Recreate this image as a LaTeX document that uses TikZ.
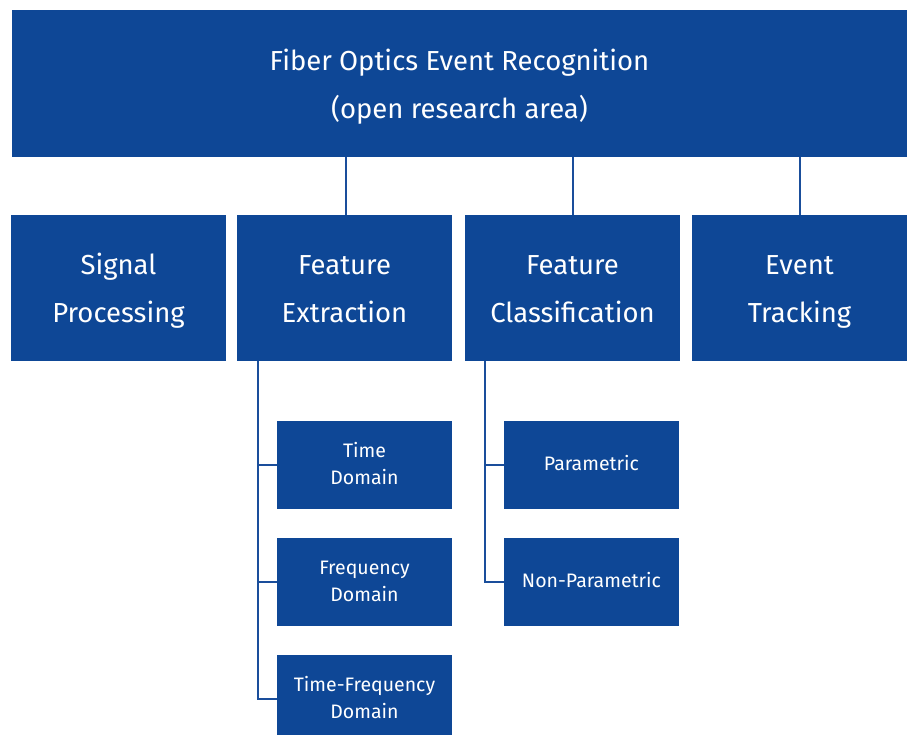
\documentclass[tikz,border=0pt]{standalone}
\usepackage{fontspec}
\setmainfont{Fira Sans}
\definecolor{boxblue}{HTML}{0E4796}
\definecolor{lineblue}{HTML}{1A4E9B}
\newcommand\lnstrut{\vphantom{Tg}}
\newcommand\bigtop{\rule{0pt}{1em}}
\newcommand\subtop{\rule{0pt}{0.8em}}
\begin{document}
\begin{tikzpicture}[x=1pt,y=-1pt,
  bigbox/.style={fill=boxblue,draw=none,text=white,align=center,inner sep=0pt,
    font=\fontsize{27.5}{48}\selectfont},
  subbox/.style={fill=boxblue,draw=none,text=white,align=center,inner sep=0pt,
    font=\fontsize{19.5}{27}\selectfont},
  conn/.style={draw=lineblue,line width=2pt}]
\useasboundingbox (0,0) rectangle (912,735);
% top
\node[bigbox,minimum width=895pt,minimum height=147pt] (top) at (459.5,83.5)
  {\bigtop Fiber Optics Event Recognition\\\lnstrut(open research area)};
% row
\node[bigbox,minimum width=215pt,minimum height=146pt] (sig) at (118.5,288) {\bigtop Signal\\\lnstrut Processing};
\node[bigbox,minimum width=215pt,minimum height=146pt] (fe) at (344.5,288) {\bigtop Feature\\\lnstrut Extraction};
\node[bigbox,minimum width=215pt,minimum height=146pt] (fc) at (572.5,288) {\bigtop Feature\\\lnstrut Classification};
\node[bigbox,minimum width=215pt,minimum height=146pt] (et) at (799.5,288) {\bigtop Event\\\lnstrut Tracking};
% sub boxes
\node[subbox,minimum width=175pt,minimum height=88pt] (td) at (364.5,465) {\subtop Time\\\lnstrut Domain};
\node[subbox,minimum width=175pt,minimum height=88pt] (fd) at (364.5,582) {\subtop Frequency\\\lnstrut Domain};
\node[subbox,minimum width=175pt,minimum height=88pt] (tfd) at (364.5,699) {\subtop Time-Frequency\\\lnstrut Domain};
\node[subbox,minimum width=175pt,minimum height=88pt] (par) at (591.5,465) {\subtop\lnstrut Parametric};
\node[subbox,minimum width=175pt,minimum height=88pt] (npar) at (591.5,582) {\subtop\lnstrut Non-Parametric};
% connectors top
\draw[conn] (top.south -| 346,0) -- (fe.north -| 346,0);
\draw[conn] (top.south -| fc.north) -- (fc.north);
\draw[conn] (top.south -| et.north) -- (et.north);
% feature extraction tree
\coordinate (fet) at (fe.south -| 258,0);
\draw[conn] (fet) |- (tfd.west);
\draw[conn] (fet |- td.west) -- (td.west);
\draw[conn] (fet |- fd.west) -- (fd.west);
% classification tree
\coordinate (fct) at (fc.south -| 485,0);
\draw[conn] (fct) |- (npar.west);
\draw[conn] (fct |- par.west) -- (par.west);
\end{tikzpicture}
\end{document}
